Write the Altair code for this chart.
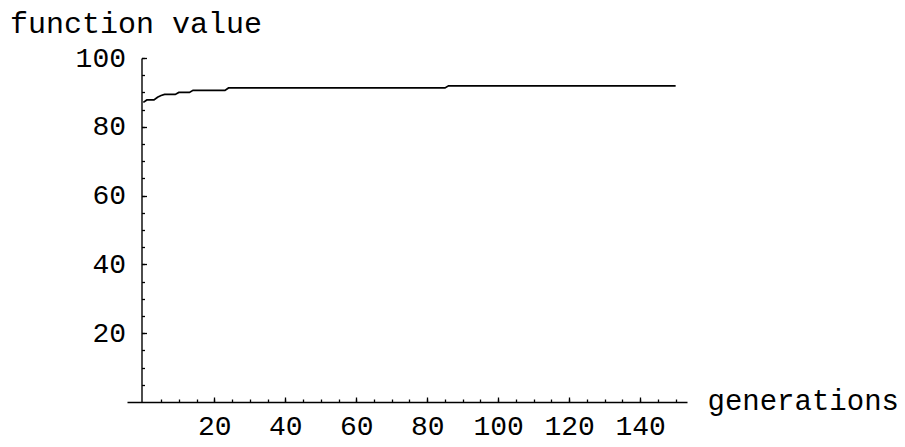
import altair as alt
import pandas as pd

# step values (breakpoints of the best-so-far curve)
generations = [0, 1, 3, 4, 5, 6, 9, 10, 13, 14, 23, 24, 85, 86, 150]
values = [87.1, 87.8, 87.8, 88.6, 89.1, 89.4, 89.4, 90.0, 90.0, 90.6, 90.6, 91.3, 91.3, 91.9, 91.9]

x_major = [20, 40, 60, 80, 100, 120, 140]
x_minor = list(range(5, 151, 5))
y_major = [20, 40, 60, 80, 100]
y_minor = list(range(5, 101, 5))

df = pd.DataFrame({"generation": generations, "value": values})

W, H = 560, 344
YOFF = 14.5
FONT = "Liberation Mono"

xscale = alt.Scale(domain=[-4.6, 153.2], nice=False, zero=False)
yscale = alt.Scale(domain=[0, 100], nice=False, zero=False)

base = alt.Chart(df)

line = base.mark_line(color="black", strokeWidth=1.7).encode(
    x=alt.X("generation:Q", scale=xscale,
            axis=alt.Axis(orient="bottom", values=x_major, ticks=False, tickSize=0,
                          domain=True, domainColor="black", domainWidth=1.4, grid=False,
                          labelFont=FONT, labelFontSize=28, labelColor="black",
                          labelPadding=10, labelFlush=False, labelOverlap=False,
                          title="generations", titleAngle=0, titleX=580, titleY=7.5,
                          titleAlign="left", titleBaseline="alphabetic", titleFont=FONT,
                          titleFontSize=29, titleFontWeight="normal", titleColor="black")),
    y=alt.Y("value:Q", scale=yscale,
            axis=alt.Axis(orient="left", offset=-YOFF, values=y_major, ticks=False, tickSize=0,
                          domain=True, domainColor="black", domainWidth=1.4, grid=False,
                          labelFont=FONT, labelFontSize=28, labelColor="black",
                          labelPadding=16, labelFlush=False, labelOverlap=False,
                          title="function value", titleAngle=0, titleX=-132, titleY=-25.7,
                          titleAlign="left", titleBaseline="alphabetic", titleFont=FONT,
                          titleFontSize=30, titleFontWeight="normal", titleColor="black")),
)

def tick_layer(xvals, yvals, size):
    return base.mark_line(strokeOpacity=0).encode(
        x=alt.X("generation:Q", scale=xscale,
                axis=alt.Axis(orient="top", offset=-H, values=xvals, labels=False, domain=False,
                              grid=False, ticks=True, tickSize=size, tickColor="black",
                              tickWidth=1.3, title="")),
        y=alt.Y("value:Q", scale=yscale,
                axis=alt.Axis(orient="right", offset=-(W - YOFF), values=yvals, labels=False,
                              domain=False, grid=False, ticks=True, tickSize=size,
                              tickColor="black", tickWidth=1.3, title="")),
    )

chart = alt.layer(
    line,
    tick_layer(x_minor, y_minor, 3),
    tick_layer(x_major, y_major, 5),
).resolve_axis(x="independent", y="independent").properties(
    width=W, height=H,
    autosize=alt.AutoSizeParams(type="none"),
    padding={"left": 127, "top": 58, "right": 905 - 127 - W, "bottom": 447 - 58 - H},
    background="white",
).configure_view(strokeWidth=0)

chart.save("out.html", embed_options={"renderer": "svg", "actions": False})
